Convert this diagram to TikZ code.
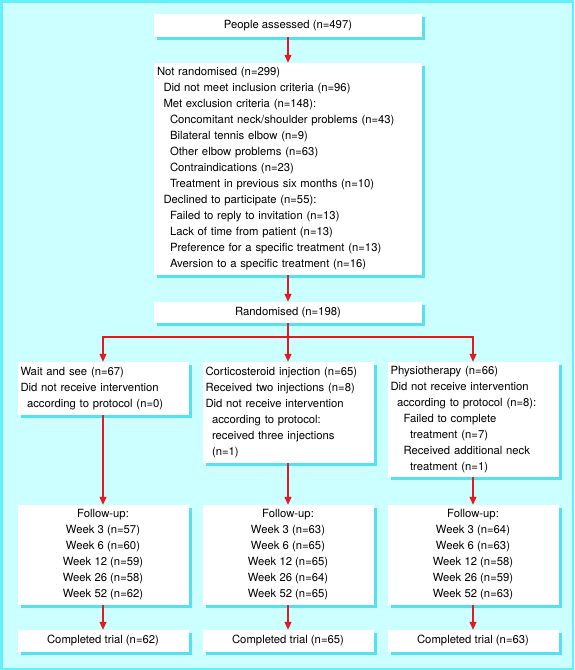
\documentclass[tikz,border=0pt]{standalone}
\usepackage{fontspec}
\setmainfont{TeX Gyre Heros}
\usetikzlibrary{shapes,arrows.meta,shadows}
\definecolor{bgcyan}{RGB}{204,255,255}
\definecolor{edgecyan}{RGB}{100,240,250}
\definecolor{shadecyan}{RGB}{85,225,240}
\definecolor{flowred}{RGB}{230,25,35}
\tikzset{
  box/.style      = {fill=white, inner xsep=3pt, inner ysep=0pt,
                     font=\fontsize{11.3}{16}\selectfont,
                     general shadow={fill=shadecyan, shadow xshift=3pt, shadow yshift=-3pt}},
  leftbox/.style  = {box, align=left, text width=#1},
  midbox/.style   = {box, align=center},
  line/.style     = {draw=flowred, line width=1.3pt}
}

\begin{document}
\begin{tikzpicture}[auto, node distance=143.5pt, >={Triangle[length=8pt,width=7pt]}]

% Background and frame
\fill[bgcyan] (0,0) rectangle (574pt,-670pt);
\draw[edgecyan, line width=2.5pt] (1.25pt,-1.25pt) rectangle (572.75pt,-668.75pt);
\useasboundingbox (0,0) rectangle (574pt,-670pt);

% Screening
\draw node [midbox, minimum width=268pt, minimum height=23pt] (assess) at (288pt,-25.5pt) {People assessed (n=497)};
\draw node [leftbox=262pt, minimum height=212pt, below of=assess] (notrand) {Not randomised (n=299)\\
  \hspace*{6.5pt}Did not meet inclusion criteria (n=96)\\
  \hspace*{6.5pt}Met exclusion criteria (n=148):\\
  \hspace*{13pt}Concomitant neck/shoulder problems (n=43)\\
  \hspace*{13pt}Bilateral tennis elbow (n=9)\\
  \hspace*{13pt}Other elbow problems (n=63)\\
  \hspace*{13pt}Contraindications (n=23)\\
  \hspace*{13pt}Treatment in previous six months (n=10)\\
  \hspace*{6.5pt}Declined to participate (n=55):\\
  \hspace*{13pt}Failed to reply to invitation (n=13)\\
  \hspace*{13pt}Lack of time from patient (n=13)\\
  \hspace*{13pt}Preference for a specific treatment (n=13)\\
  \hspace*{13pt}Aversion to a specific treatment (n=16)};
\draw node [midbox, minimum width=268pt, minimum height=21pt, below of=notrand] (rand) {Randomised (n=198)};
\coordinate [below of=rand, node distance=24.5pt] (split);

% Allocation
\draw node [leftbox=165pt, minimum height=101pt, below of=rand, node distance=100pt] (inj) {Corticosteroid injection (n=65)\\
  Received two injections (n=8)\\
  Did not receive intervention\\
  \hspace*{6.5pt}according to protocol:\\
  \hspace*{6.5pt}received three injections\\
  \hspace*{6.5pt}(n=1)};
\draw node [leftbox=165pt, minimum height=53pt, left of=inj, node distance=185pt, yshift=24pt] (wait) {Wait and see (n=67)\\
  Did not receive intervention\\
  \hspace*{6.5pt}according to protocol (n=0)};
\draw node [leftbox=165pt, minimum height=115pt, right of=inj, node distance=185pt, yshift=-7pt] (physio) {Physiotherapy (n=66)\\
  Did not receive intervention\\
  \hspace*{6.5pt}according to protocol (n=8):\\
  \hspace*{13pt}Failed to complete\\
  \hspace*{19.5pt}treatment (n=7)\\
  \hspace*{13pt}Received additional neck\\
  \hspace*{19.5pt}treatment (n=1)};

% Follow-up
\draw node [midbox, minimum width=171pt, minimum height=100pt, below of=inj, node distance=142.5pt] (fuinj) {Follow-up:\\Week 3 (n=63)\\Week 6 (n=65)\\Week 12 (n=65)\\Week 26 (n=64)\\Week 52 (n=65)};
\draw node [midbox, minimum width=171pt, minimum height=100pt, left of=fuinj, node distance=185pt] (fuwait) {Follow-up:\\Week 3 (n=57)\\Week 6 (n=60)\\Week 12 (n=59)\\Week 26 (n=58)\\Week 52 (n=62)};
\draw node [midbox, minimum width=171pt, minimum height=100pt, right of=fuinj, node distance=185pt] (fuphys) {Follow-up:\\Week 3 (n=64)\\Week 6 (n=63)\\Week 12 (n=58)\\Week 26 (n=59)\\Week 52 (n=63)};

% Completed
\draw node [midbox, minimum width=171pt, minimum height=22pt, below of=fuwait, node distance=86pt] (donewait) {Completed trial (n=62)};
\draw node [midbox, minimum width=171pt, minimum height=22pt, below of=fuinj, node distance=86pt] (doneinj) {Completed trial (n=65)};
\draw node [midbox, minimum width=171pt, minimum height=22pt, below of=fuphys, node distance=86pt] (donephys) {Completed trial (n=63)};

% Connections
\draw[line, ->](assess) -- (notrand);
\draw[line, ->](notrand) -- (rand);
\draw[line, ->](rand) -- (inj);
\draw[line, ->](split) -| (wait);
\draw[line, ->](split) -| (physio);
\draw[line, ->](wait) -- (fuwait);
\draw[line, ->](inj) -- (fuinj);
\draw[line, ->](physio) -- (fuphys);
\draw[line, ->](fuwait) -- (donewait);
\draw[line, ->](fuinj) -- (doneinj);
\draw[line, ->](fuphys) -- (donephys);

\end{tikzpicture}
\end{document}
